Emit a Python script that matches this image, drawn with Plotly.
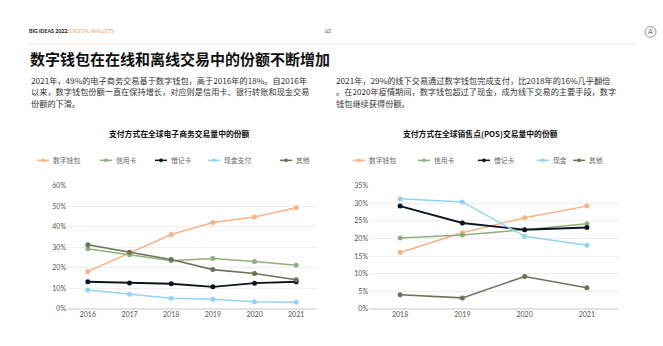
import plotly.graph_objects as go

# ---- data -------------------------------------------------------------
years_ecom = ["2016", "2017", "2018", "2019", "2020", "2021"]
ecom_names = ["数字钱包", "信用卡", "借记卡", "现金支付", "其他"]
ecom_wallet = [18.2, 27.2, 36.2, 42.1, 44.8, 49.3]
ecom_credit = [29.3, 26.4, 23.4, 24.5, 23.1, 21.2]
ecom_debit = [13.2, 12.6, 12.2, 10.7, 12.5, 13.2]
ecom_cash = [9.2, 7.1, 5.1, 4.6, 3.5, 3.2]
ecom_other = [31.2, 27.6, 24.0, 19.1, 17.2, 14.2]

years_pos = ["2018", "2019", "2020", "2021"]
pos_names = ["数字钱包", "信用卡", "借记卡", "现金", "其他"]
pos_wallet = [16.0, 21.6, 25.9, 29.2]
pos_credit = [20.1, 21.0, 22.5, 24.2]
pos_debit = [29.2, 24.4, 22.5, 23.1]
pos_cash = [31.3, 30.4, 20.6, 18.1]
pos_other = [4.0, 3.1, 9.2, 6.0]

colors = ["#F6B486", "#8FAF7C", "#0B1622", "#93D3F2", "#6B7458"]
widths = [1.5, 1.5, 1.9, 1.5, 1.6]

W, H = 663, 346
CJK = "Noto Sans CJK SC"

fig = go.Figure()

ecom_series = [ecom_wallet, ecom_credit, ecom_debit, ecom_cash, ecom_other]
pos_series = [pos_wallet, pos_credit, pos_debit, pos_cash, pos_other]

for name, vals, col, lw in zip(ecom_names, ecom_series, colors, widths):
    fig.add_trace(go.Scatter(
        x=years_ecom, y=[v / 100 for v in vals], name=name,
        mode="lines+markers", line=dict(color=col, width=lw),
        marker=dict(color=col, size=5), xaxis="x", yaxis="y",
        showlegend=False, hoverinfo="skip"))

for name, vals, col, lw in zip(pos_names, pos_series, colors, widths):
    fig.add_trace(go.Scatter(
        x=years_pos, y=[v / 100 for v in vals], name=name,
        mode="lines+markers", line=dict(color=col, width=lw),
        marker=dict(color=col, size=5), xaxis="x2", yaxis="y2",
        showlegend=False, hoverinfo="skip"))

tick_font = dict(family="Lato", size=7, color="#555555")
grid = "#EFEFEF"

ydom = [1 - 311 / H, 1 - 185 / H]

fig.update_layout(
    width=W, height=H, margin=dict(l=0, r=0, t=0, b=0),
    paper_bgcolor="white", plot_bgcolor="white",
    xaxis=dict(domain=[67 / W, 317 / W], type="category", range=[-0.5, 5.5],
               showgrid=False, showline=False, ticks="", tickfont=tick_font,
               anchor="y", fixedrange=True),
    yaxis=dict(domain=ydom, range=[0, 0.6], dtick=0.1, tickformat=".0%",
               showgrid=True, gridcolor=grid, gridwidth=1, zeroline=True,
               zerolinecolor="#E3E3E3", showline=False, ticks="",
               tickfont=tick_font, anchor="x", fixedrange=True),
    xaxis2=dict(domain=[369 / W, 618 / W], type="category", range=[-0.5, 3.5],
                showgrid=False, showline=False, ticks="", tickfont=tick_font,
                anchor="y2", fixedrange=True),
    yaxis2=dict(domain=ydom, range=[0, 0.35], dtick=0.05, tickformat=".0%",
                showgrid=True, gridcolor=grid, gridwidth=1, zeroline=True,
                zerolinecolor="#E3E3E3", showline=False, ticks="",
                tickfont=tick_font, anchor="x2", fixedrange=True),
    showlegend=False,
)

ann = []
shapes = []


def px_x(x):
    return x / W


def px_y(y):
    return 1 - y / H


# page header
ann.append(dict(x=px_x(27), y=px_y(27), xref="paper", yref="paper",
                xanchor="left", yanchor="middle", showarrow=False,
                text="<b>BIG IDEAS 2022:</b> <span style='color:#F2B98C'><b>DIGITAL WALLETS</b></span>",
                font=dict(family="Lato", size=5.2, color="#111111")))
ann.append(dict(x=px_x(328), y=px_y(27), xref="paper", yref="paper",
                xanchor="center", yanchor="middle", showarrow=False,
                text="62", font=dict(family="Lato", size=5, color="#444444")))
# headline
ann.append(dict(x=px_x(28), y=px_y(55), xref="paper", yref="paper",
                xanchor="left", yanchor="middle", showarrow=False,
                text="<b>数字钱包在在线和离线交易中的份额不断增加</b>",
                font=dict(family=CJK, size=15, color="#111111")))
# body paragraphs
left_par = ["2021年，49%的电子商务交易基于数字钱包，高于2016年的18%。自2016年",
            "以来，数字钱包份额一直在保持增长，对应则是信用卡、银行转账和现金交易",
            "份额的下滑。"]
right_par = ["2021年，29%的线下交易通过数字钱包完成支付，比2018年的16%几乎翻倍",
             "。在2020年疫情期间，数字钱包超过了现金，成为线下交易的主要手段，数字",
             "钱包继续获得份额。"]
for i, line in enumerate(left_par):
    ann.append(dict(x=px_x(29), y=px_y(77 + 11.5 * i), xref="paper", yref="paper",
                    xanchor="left", yanchor="middle", showarrow=False, text=line,
                    font=dict(family=CJK, size=8.2, color="#333333")))
for i, line in enumerate(right_par):
    ann.append(dict(x=px_x(334), y=px_y(77 + 11.5 * i), xref="paper", yref="paper",
                    xanchor="left", yanchor="middle", showarrow=False, text=line,
                    font=dict(family=CJK, size=8.2, color="#333333")))
# chart titles
ann.append(dict(x=px_x(179), y=px_y(132), xref="paper", yref="paper",
                xanchor="center", yanchor="middle", showarrow=False,
                text="<b>支付方式在全球电子商务交易量中的份额</b>",
                font=dict(family=CJK, size=7.8, color="#111111")))
ann.append(dict(x=px_x(480), y=px_y(132), xref="paper", yref="paper",
                xanchor="center", yanchor="middle", showarrow=False,
                text="<b>支付方式在全球销售点(POS)交易量中的份额</b>",
                font=dict(family=CJK, size=7.8, color="#111111")))

# legends: short line with a dot, then the series name
legend_y = 159
ecom_legend_x = [37, 100, 155, 208, 280]
pos_legend_x = [353, 418, 478, 537, 573]
for names, xs in ((ecom_names, ecom_legend_x), (pos_names, pos_legend_x)):
    for name, x0, col in zip(names, xs, colors):
        shapes.append(dict(type="line", xref="paper", yref="paper",
                           x0=px_x(x0), x1=px_x(x0 + 12), y0=px_y(legend_y), y1=px_y(legend_y),
                           line=dict(color=col, width=1.5)))
        shapes.append(dict(type="circle", xref="paper", yref="paper",
                           x0=px_x(x0 + 4.3), x1=px_x(x0 + 7.7),
                           y0=px_y(legend_y + 1.7), y1=px_y(legend_y - 1.7),
                           fillcolor=col, line=dict(color=col, width=0.5)))
        ann.append(dict(x=px_x(x0 + 14), y=px_y(legend_y), xref="paper", yref="paper",
                        xanchor="left", yanchor="middle", showarrow=False, text=name,
                        font=dict(family=CJK, size=6.8, color="#666666")))

# header rule and emblem
shapes.append(dict(type="line", xref="paper", yref="paper",
                   x0=px_x(27), x1=px_x(636), y0=px_y(40), y1=px_y(40),
                   line=dict(color="#F5E3D3", width=1)))
shapes.append(dict(type="circle", xref="paper", yref="paper",
                   x0=px_x(645), x1=px_x(656), y0=px_y(33), y1=px_y(22),
                   line=dict(color="#777777", width=0.8)))
ann.append(dict(x=px_x(650.5), y=px_y(27.5), xref="paper", yref="paper",
                xanchor="center", yanchor="middle", showarrow=False, text="A",
                font=dict(family="DejaVu Sans", size=7, color="#666666")))

fig.update_layout(annotations=ann, shapes=shapes)
fig.write_html("out.html")
